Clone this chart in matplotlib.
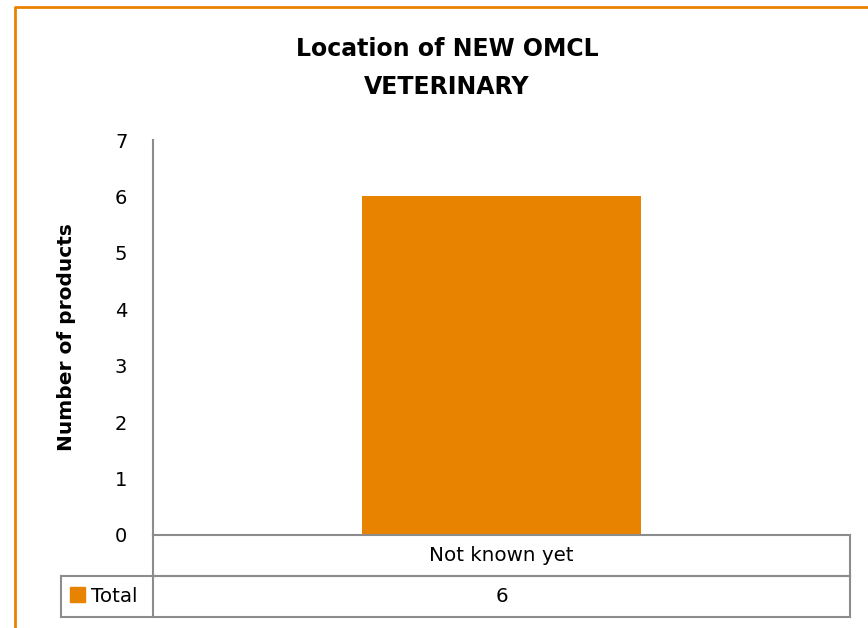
import matplotlib
matplotlib.use("Agg")
import matplotlib.pyplot as plt
from matplotlib.lines import Line2D
from matplotlib.patches import Rectangle

plt.rcParams['font.family'] = ['DejaVu Sans']

# Data
categories = ["Not known yet"]
series_name = "Total"
values = [6]
title = "Location of NEW OMCL\nVETERINARY"
ylabel = "Number of products"
yticks = [0, 1, 2, 3, 4, 5, 6, 7]

W, H = 868, 628
ORANGE = "#E88300"
GRAY = "#8C8C8C"

fig = plt.figure(figsize=(W / 100, H / 100), dpi=100)

def fx(px):
    return px / W

def fy(py):
    return 1 - py / H

# plot area (pixels)
L, R, T, B = 153, 850, 140, 535
ax = fig.add_axes([fx(L), fy(B), fx(R) - fx(L), fy(T) - fy(B)])
x = list(range(len(categories)))
ax.bar(x, values, width=0.4, color=ORANGE, zorder=2)
ax.set_xlim(-0.5, len(categories) - 0.5)
ax.set_ylim(0, 7)
ax.set_yticks(yticks)
ax.set_yticklabels([str(t) for t in yticks], fontsize=14)
ax.tick_params(axis='y', length=0, pad=18.5)
ax.set_xticks([])
for s in ['top', 'right']:
    ax.spines[s].set_visible(False)
for s in ['left', 'bottom']:
    ax.spines[s].set_color(GRAY)
    ax.spines[s].set_linewidth(1.5)
ax.set_ylabel(ylabel, fontsize=14.5, fontweight='bold')
ax.yaxis.set_label_coords((67 - L) / (R - L), 0.5)
ax.yaxis.label.set_va('center')

# title
fig.text(fx(447), fy(68), title, ha='center', va='center', fontsize=17,
         fontweight='bold', linespacing=1.72)

# data table
row1, row2, row3 = 535, 576, 617
tl = 61
lw = 1.5
lines = [
    ((L, L), (row1, row3)),
    ((R, R), (row1, row3)),
    ((L, R), (row2, row2)),
    ((tl, R), (row2, row2)),
    ((tl, R), (row3, row3)),
    ((tl, tl), (row2, row3)),
]
for xs, ys in lines:
    fig.add_artist(Line2D([fx(v) for v in xs], [fy(v) for v in ys],
                          color=GRAY, lw=lw))
cw = (R - L) / len(categories)
for i, (c, v) in enumerate(zip(categories, values)):
    cx = L + cw * (i + 0.5)
    fig.text(fx(cx), fy((row1 + row2) / 2), c, ha='center', va='center', fontsize=14.3)
    fig.text(fx(cx), fy((row2 + row3) / 2), str(v), ha='center', va='center', fontsize=14.3)
fig.add_artist(Rectangle((fx(70), fy(602)), 15 / W, 15 / H, color=ORANGE,
                         transform=fig.transFigure))
fig.text(fx(91), fy((row2 + row3) / 2), series_name, ha='left', va='center', fontsize=14.3)

# orange chart border (left and top visible)
fig.add_artist(Line2D([fx(15), fx(15), fx(868)], [fy(H + 5), fy(7), fy(7)],
                      color=ORANGE, lw=2))

fig.savefig("out.png", dpi=100)
